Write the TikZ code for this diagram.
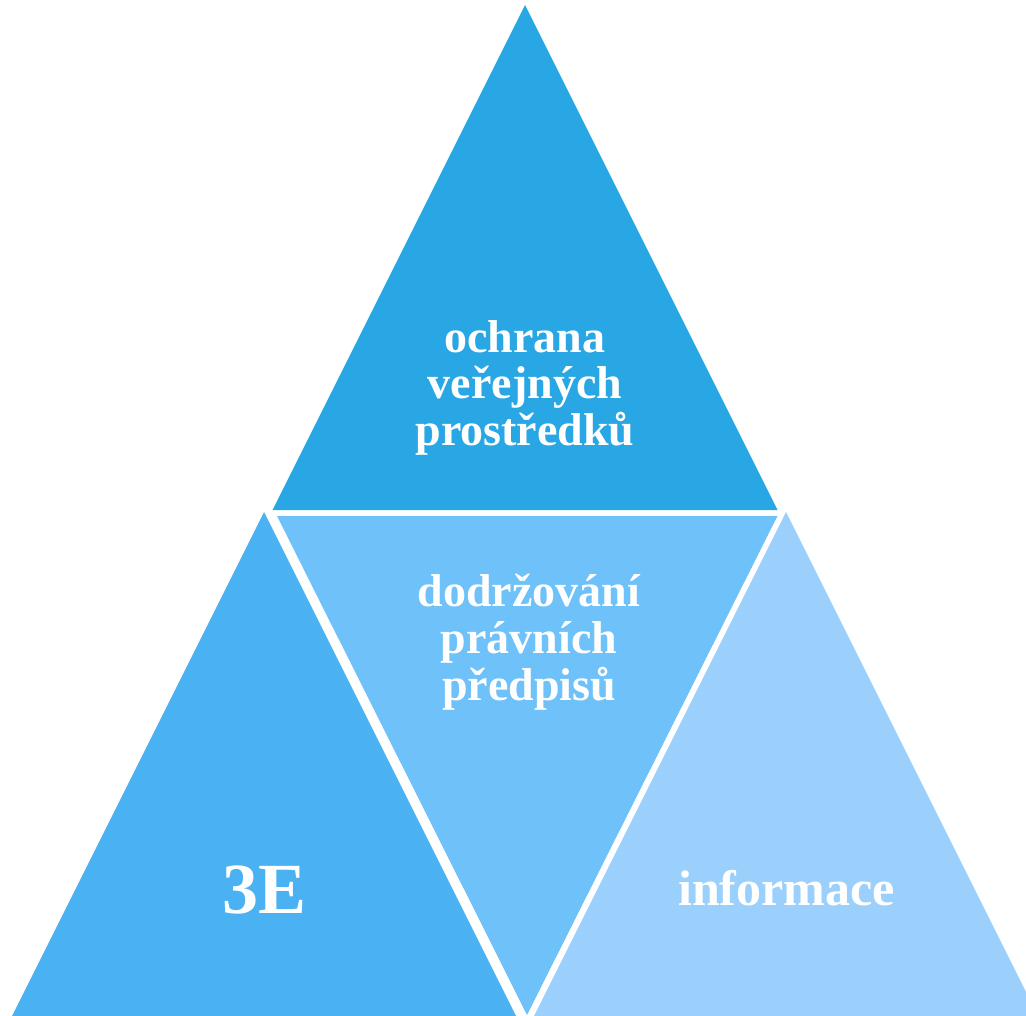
\documentclass[tikz,border=0pt]{standalone}
\usepackage{fontspec}
\setmainfont{Liberation Serif}
\definecolor{ctop}{RGB}{41,167,228}
\definecolor{cleft}{RGB}{74,178,242}
\definecolor{cmid}{RGB}{111,193,249}
\definecolor{cright}{RGB}{155,208,253}
\tikzset{
  lbl/.style={text=white, font=\bfseries\fontsize{46}{46}\selectfont, anchor=base, inner sep=0pt},
  biglbl/.style={text=white, font=\bfseries\fontsize{72}{72}\selectfont, anchor=base, inner sep=0pt},
}
\begin{document}
\begin{tikzpicture}[x=1pt,y=-1pt]
\useasboundingbox (0,0) rectangle (1026,1016);
\begin{scope}
\clip (0,0) rectangle (1026,1016);
% top triangle
\coordinate (tA) at (525,5);
\coordinate (tL) at (272.5,510);
\coordinate (tR) at (777.5,510);
\fill[ctop] (tA) -- (tL) -- (tR) -- cycle;
% middle inverted triangle
\coordinate (mL) at (277,516);
\coordinate (mR) at (777.5,516);
\coordinate (mB) at (527,1015);
\fill[cmid] (mL) -- (mR) -- (mB) -- cycle;
% left triangle
\coordinate (lA) at (264,512);
\coordinate (lL) at (12,1016);
\coordinate (lR) at (516,1016);
\fill[cleft] (lA) -- (lL) -- (lR) -- cycle;
% right triangle
\coordinate (rA) at (786,512);
\coordinate (rL) at (534,1016);
\coordinate (rR) at (1038,1016);
\fill[cright] (rA) -- (rL) -- (rR) -- cycle;
\end{scope}
% texts
\node[lbl] (t1) at (525,353) {ochrana};
\node[lbl] (t2) at (525,399) {veřejných};
\node[lbl] (t3) at (525,445) {prostředků};
\node[lbl] (m1) at (529,606) {dodržování};
\node[lbl] (m2) at (529,653) {právních};
\node[lbl] (m3) at (529,700) {předpisů};
\node[biglbl] (l1) at (265,913) {3E};
\node[lbl, font=\bfseries\fontsize{50}{50}\selectfont] (r1) at (786.5,905) {informace};
\end{tikzpicture}
\end{document}
